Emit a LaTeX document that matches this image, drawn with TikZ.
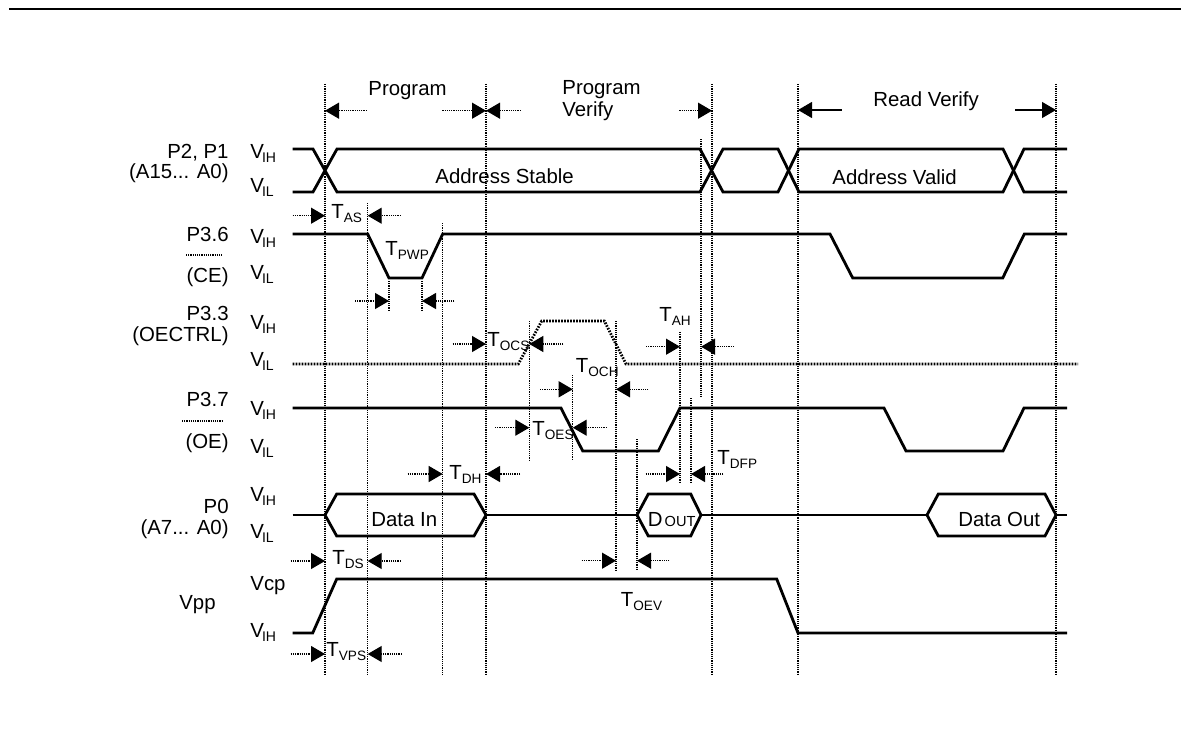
\documentclass[tikz,border=0pt]{standalone}
\usepackage{fontspec}
\setmainfont{Liberation Sans}
\usetikzlibrary{arrows.meta}

\newcommand{\Tsub}[1]{T\raisebox{-0.4ex}{\fontsize{6.8}{7}\selectfont #1}}
\newcommand{\Vsub}[1]{V\kern-1pt\raisebox{-0.45ex}{\fontsize{7}{7}\selectfont #1}}
\newcommand{\tpair}[5]{% y, tail, tip, tail, tip
  \draw [dimarr] (#2,#1) -- (#3,#1);
  \draw [dimarr] (#4,#1) -- (#5,#1);}

\begin{document}
\begin{tikzpicture}[x=0.5pt,y=0.5pt,yscale=-1,
  font=\fontsize{10.2}{12}\selectfont,
  sig/.style={line width=1.4pt},
  ctl/.style={line width=1.4pt,dash pattern=on 0.8pt off 0.7pt},
  guide/.style={line width=0.6pt,dash pattern=on 0.6pt off 0.5pt},
  dimarr/.style={line width=0.6pt,dash pattern=on 0.6pt off 0.5pt,-{Triangle[length=7pt,width=8pt]}},
  spanarr/.style={line width=0.6pt,-{Triangle[length=7pt,width=8pt]}},
  lbl/.style={inner sep=0pt,anchor=base west},
  sname/.style={inner sep=0pt,anchor=base east}]
\useasboundingbox (0,0) rectangle (1181,738);
\draw [line width=1pt] (9,9) -- (1181,9);

% vertical guides
\foreach \x/\ya/\yb in {325/84/675,367.7/203/675,442.7/223/675,486/84/675,
    529.3/321/460,572.7/375/460,616/321/570,637/439/570,680/332/482,
    691/398/483,701/139/397,712/84/675,798/84/675,1056/84/675,
    389/281/310,422/281/310}
  \draw [guide] (\x,\ya) -- (\x,\yb);

% phase arrows
\tpair{110.7}{366.7}{325}{442.3}{486}
\tpair{110.7}{520.7}{486}{679.3}{712}
\draw [spanarr] (841.7,110) -- (798,110);
\draw [spanarr] (1015,110) -- (1056,110);
\node [lbl] (prog) at (368,96) {Program};
\node [lbl] (pvfy1) at (562,95) {Program};
\node [lbl] (pvfy2) at (562,116.5) {Verify};
\node [lbl] (rvfy) at (873,106.7) {Read Verify};

% P2, P1 address
\draw [sig] (292.7,149) -- (313,149) -- (337,192) -- (700,192) -- (723,149) -- (778,149) -- (799,192) -- (1003,192) -- (1024,149) -- (1067,149);
\draw [sig] (292.7,192) -- (313,192) -- (337,149) -- (700,149) -- (723,192) -- (778,192) -- (799,149) -- (1003,149) -- (1024,192) -- (1067,192);
\node [lbl] (astab) at (435,183.5) {Address Stable};
\node [lbl] (avalid) at (832,184) {Address Valid};

% P3.6 CE
\draw [sig] (292.7,234) -- (367.7,234) -- (389,278) -- (422,278) -- (442.7,234) -- (830,234) -- (852.7,278) -- (1002.7,278) -- (1024.3,234) -- (1067,234);

% P3.3 OECTRL
\draw [ctl] (292.7,364) -- (518.3,364) -- (541.7,321) -- (604.3,321) -- (626,364) -- (1078,364);

% P3.7 OE
\draw [sig] (292.7,408) -- (561,408) -- (582.7,451) -- (658.3,451) -- (680,408) -- (884,408) -- (906,451) -- (1003,451) -- (1024,408) -- (1067,408);

% P0 data
\draw [sig] (292.7,515) -- (325,515);
\draw [sig] (325,515) -- (336.7,494) -- (474,494) -- (486,515) -- (474,536) -- (336.7,536) -- cycle;
\draw [sig] (486,515) -- (637,515);
\draw [sig] (637,515) -- (648.3,494) -- (690.7,494) -- (701,515) -- (690.7,536) -- (648.3,536) -- cycle;
\draw [sig] (701,515) -- (927,515);
\draw [sig] (927,515) -- (938.3,494) -- (1045,494) -- (1056,515) -- (1045,536) -- (938.3,536) -- cycle;
\draw [sig] (1056,515) -- (1067,515);
\node [lbl] (din) at (371,526.5) {Data In};
\node [lbl] (dout) at (647.5,526.5) {D\kern1pt{\fontsize{7.3}{8}\selectfont OUT}};
\node [lbl] (dout2) at (958,526.5) {Data Out};

% Vpp
\draw [sig] (292.7,633) -- (312.7,633) -- (336.7,579) -- (776.7,579) -- (798,633) -- (1067,633);

% timing marks
\tpair{215.7}{292.7}{325}{400.7}{367.7}
\node [lbl] (tas) at (331,218) {\Tsub{AS}};
\tpair{301}{355}{389}{454.3}{422}
\node [lbl] (tpwp) at (385,255) {\Tsub{PWP}};
\tpair{344}{452.7}{486}{563.3}{529.3}
\node [lbl] (tocs) at (487,346) {\Tsub{OCS}};
\tpair{346.7}{646}{680}{734}{701}
\node [lbl] (tah) at (659,321) {\Tsub{AH}};
\tpair{389.3}{540}{572.7}{648.3}{616}
\node [lbl] (toch) at (575.5,372) {\Tsub{OCH}};
\tpair{427.7}{495}{529.3}{606.7}{572.7}
\node [lbl] (toes) at (532,435) {\Tsub{OES}};
\tpair{474}{407.7}{442.7}{520}{486}
\node [lbl] (tdh) at (449,479.5) {\Tsub{DH}};
\tpair{474}{645.7}{680}{723.3}{691}
\node [lbl] (tdfp) at (717,464) {\Tsub{DFP}};
\tpair{561}{290.7}{325}{400.7}{367.7}
\node [lbl] (tds) at (332,564) {\Tsub{DS}};
\tpair{560.7}{581.7}{616}{669.3}{637}
\node [lbl] (toev) at (620.5,606) {\Tsub{OEV}};
\tpair{654}{290.7}{325}{401.7}{367.7}
\node [lbl] (tvps) at (326,656) {\Tsub{VPS}};

% signal names
\node [sname] (addr1) at (229,158) {P2, P1};
\node [sname] (addr2) at (229,178) {(A15... A0)};
\node [sname] (ce1) at (229,241) {P3.6};
\draw [guide] (186,255) -- (222,255);
\node [sname] (ce2) at (229,282) {(CE)};
\node [sname] (oc1) at (229,320) {P3.3};
\node [sname] (oc2) at (229,341) {(OECTRL)};
\node [sname] (oe1) at (229,406) {P3.7};
\draw [guide] (182,421) -- (222,421);
\node [sname] (oe2) at (229,448) {(OE)};
\node [sname] (p01) at (229,513) {P0};
\node [sname] (p02) at (229,534) {(A7... A0)};
\node [sname] (vpp) at (216,609) {Vpp};

% levels
\node [lbl] (ah) at (250,158) {\Vsub{IH}};
\node [lbl] (al) at (250,192) {\Vsub{IL}};
\node [lbl] (ch) at (250,243) {\Vsub{IH}};
\node [lbl] (cl) at (250,279) {\Vsub{IL}};
\node [lbl] (oh) at (250,329) {\Vsub{IH}};
\node [lbl] (ol) at (250,366) {\Vsub{IL}};
\node [lbl] (eh) at (250,415) {\Vsub{IH}};
\node [lbl] (el) at (250,453) {\Vsub{IL}};
\node [lbl] (dh) at (250,501) {\Vsub{IH}};
\node [lbl] (dl) at (250,538) {\Vsub{IL}};
\node [lbl] (vcp) at (250,590) {Vcp};
\node [lbl] (vh) at (250,637) {\Vsub{IH}};
\end{tikzpicture}
\end{document}
